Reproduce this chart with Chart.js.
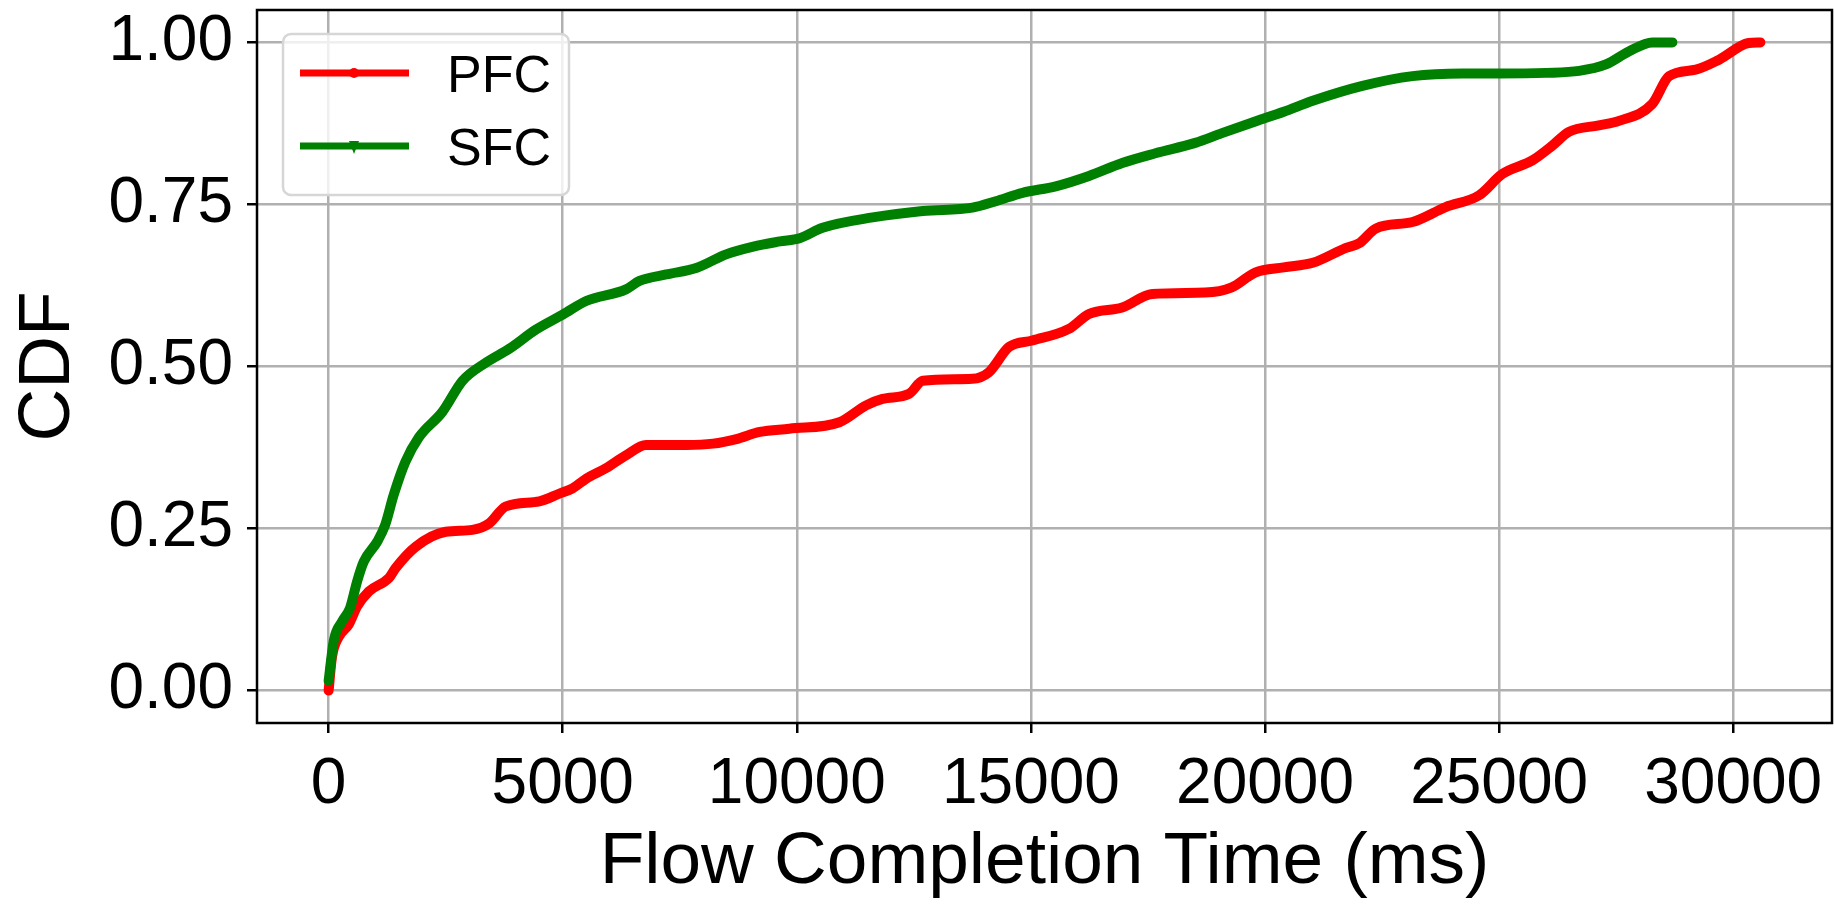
<!DOCTYPE html>
<html>
<head>
<meta charset="utf-8">
<title>Flow Completion Time CDF</title>
<script src="https://cdn.jsdelivr.net/npm/chart.js@4.4.1/dist/chart.umd.min.js"></script>
<style>
    html, body { margin: 0; padding: 0; background: #fff; }
    #wrap { width: 1834px; height: 904px; }
</style>
</head>
<body>
<div id="wrap"><canvas id="cdfChart" width="1834" height="904"></canvas></div>
<script>
// Values (time in ms, CDF 0..1)
var pfcTime = [0, 70, 210, 430, 610, 860, 1290, 1430, 1860, 2500,
               3070, 3430, 3780, 4500, 4930, 5210, 5500, 5920, 6350, 6780,
               7640, 8210, 8710, 9210, 9840, 10910, 11480, 11830, 12400, 12690,
               13750, 14100, 14530, 15030, 15810, 16240, 16950, 17590, 18720, 19290,
               19790, 20400, 21020, 21730, 22010, 22370, 23150, 23860, 24570, 25070,
               25710, 26140, 26490, 27130, 27560, 28270, 28630, 29200, 29690, 30330,
               30580];
var pfcCdf = [0.000, 0.051, 0.082, 0.102, 0.130, 0.153, 0.174, 0.189, 0.222, 0.245,
              0.248, 0.258, 0.284, 0.292, 0.304, 0.312, 0.327, 0.343, 0.363, 0.379,
              0.379, 0.381, 0.388, 0.399, 0.404, 0.414, 0.440, 0.450, 0.458, 0.478,
              0.481, 0.491, 0.530, 0.540, 0.558, 0.581, 0.591, 0.612, 0.614, 0.622,
              0.645, 0.653, 0.660, 0.683, 0.690, 0.713, 0.723, 0.746, 0.764, 0.797,
              0.818, 0.841, 0.862, 0.872, 0.879, 0.905, 0.948, 0.958, 0.973, 0.999,
              1.000];

var sfcTime = [0, 110, 290, 460, 610, 750, 1040, 1210, 1390, 1640,
               1930, 2430, 2860, 3360, 3850, 4430, 5000, 5500, 6350, 6640,
               7210, 7850, 8490, 9070, 9640, 10060, 10550, 11620, 12690, 13750,
               14250, 14820, 15530, 16240, 16950, 17660, 18510, 19080, 19790, 20400,
               21020, 22080, 23150, 24220, 25000, 26000, 26710, 27280, 27770, 28270,
               28700];
var sfcCdf = [0.015, 0.077, 0.107, 0.128, 0.169, 0.199, 0.230, 0.256, 0.302, 0.353,
              0.391, 0.430, 0.478, 0.506, 0.527, 0.557, 0.580, 0.601, 0.619, 0.632,
              0.642, 0.652, 0.673, 0.685, 0.693, 0.698, 0.714, 0.730, 0.740, 0.745,
              0.755, 0.768, 0.778, 0.794, 0.814, 0.829, 0.845, 0.860, 0.878, 0.893,
              0.910, 0.933, 0.948, 0.952, 0.952, 0.953, 0.956, 0.966, 0.986, 1.000,
              1.000];

var seriesLabels = ['PFC', 'SFC'];
var xTickValues = [0, 5000, 10000, 15000, 20000, 25000, 30000];
var yTickValues = [0, 0.25, 0.5, 0.75, 1.0];
var xLimits = [-1530, 32110];
var yLimits = [-0.05, 1.05];

var FONT = '"Liberation Sans", Arial, Helvetica, sans-serif';

function toPoints(xs, ys) {
    var pts = [];
    for (var i = 0; i < xs.length; i++) {
        pts.push({ x: xs[i], y: ys[i] });
    }
    return pts;
}

function fixedTicks(values) {
    return function(scale) {
        scale.ticks = values.map(function(v) { return { value: v }; });
    };
}

// Fixed axis box size, and no extra room for edge labels
function fixAxis(size) {
    return function(s) {
        if (s.isHorizontal()) {
            s.height = size;
        } else {
            s.width = size;
        }
        s.paddingTop = 0;
        s.paddingBottom = 0;
        s.paddingLeft = 0;
        s.paddingRight = 0;
    };
}

// Common look for both curves
function cdfLine(label, xs, ys, color, marker, order) {
    return {
        label: label,
        data: toPoints(xs, ys),
        borderColor: color,
        backgroundColor: color,
        borderWidth: 10,
        fill: false,
        pointRadius: 0,
        pointHoverRadius: 0,
        cubicInterpolationMode: 'monotone',
        borderCapStyle: 'round',
        borderJoinStyle: 'round',
        legendMarker: marker,
        order: order
    };
}

// Black box around the plot area (all four spines)
var framePlugin = {
    id: 'frame',
    afterDatasetsDraw: function(chart) {
        var a = chart.chartArea;
        var ctx = chart.ctx;
        ctx.save();
        ctx.strokeStyle = '#000';
        ctx.lineWidth = 2.5;
        ctx.strokeRect(a.left, a.top, a.right - a.left, a.bottom - a.top);
        ctx.restore();
    }
};

// Legend in the upper left corner, matplotlib style
var cornerLegend = {
    id: 'cornerLegend',
    afterDraw: function(chart) {
        var ctx = chart.ctx;
        var box = { x: 283, y: 34, w: 286, h: 161, r: 8 };
        ctx.save();
        ctx.beginPath();
        ctx.roundRect(box.x, box.y, box.w, box.h, box.r);
        ctx.fillStyle = 'rgba(255,255,255,0.8)';
        ctx.fill();
        ctx.lineWidth = 2.5;
        ctx.strokeStyle = '#d6d6d6';
        ctx.stroke();

        var rowY = [73, 146];
        chart.data.datasets.forEach(function(ds, i) {
            var y = rowY[i];
            ctx.strokeStyle = ds.borderColor;
            ctx.fillStyle = ds.borderColor;
            ctx.lineWidth = 7;
            ctx.lineCap = 'butt';
            ctx.beginPath();
            ctx.moveTo(300, y);
            ctx.lineTo(409, y);
            ctx.stroke();

            ctx.beginPath();
            if (ds.legendMarker === 'circle') {
                ctx.arc(354, y, 5, 0, Math.PI * 2);
            } else {
                ctx.moveTo(349, y - 5);
                ctx.lineTo(359, y - 5);
                ctx.lineTo(354, y + 8);
                ctx.closePath();
            }
            ctx.fill();

            ctx.fillStyle = '#000';
            ctx.font = '52px ' + FONT;
            ctx.textBaseline = 'alphabetic';
            ctx.textAlign = 'left';
            ctx.fillText(ds.label, 447, y + 19);
        });
        ctx.restore();
    }
};

var ctx = document.getElementById('cdfChart');

new Chart(ctx, {
    type: 'line',
    data: {
        datasets: [
            cdfLine(seriesLabels[0], pfcTime, pfcCdf, '#ff0000', 'circle', 1),
            cdfLine(seriesLabels[1], sfcTime, sfcCdf, '#008000', 'triangle', 0)
        ]
    },
    options: {
        responsive: false,
        animation: false,
        devicePixelRatio: 1,
        layout: { padding: { top: 10, right: 2, left: 0, bottom: 0 } },
        plugins: {
            legend: { display: false },
            tooltip: { enabled: false }
        },
        scales: {
            x: {
                type: 'linear',
                min: xLimits[0],
                max: xLimits[1],
                afterBuildTicks: fixedTicks(xTickValues),
                afterFit: fixAxis(181),
                grid: {
                    color: '#b0b0b0',
                    lineWidth: 2.5,
                    tickColor: '#000',
                    tickLength: 10,
                    tickWidth: 2.5
                },
                border: { display: false },
                ticks: {
                    color: '#000',
                    padding: 14,
                    maxRotation: 0,
                    font: { family: FONT, size: 64 },
                    callback: function(v) { return String(v); }
                },
                title: {
                    display: true,
                    text: 'Flow Completion Time (ms)',
                    color: '#000',
                    font: { family: FONT, size: 73, lineHeight: 1.1 },
                    padding: { top: 0, bottom: 1 }
                }
            },
            y: {
                type: 'linear',
                min: yLimits[0],
                max: yLimits[1],
                afterBuildTicks: fixedTicks(yTickValues),
                afterFit: fixAxis(257),
                grid: {
                    color: '#b0b0b0',
                    lineWidth: 2.5,
                    tickColor: '#000',
                    tickLength: 10,
                    tickWidth: 2.5
                },
                border: { display: false },
                ticks: {
                    color: '#000',
                    padding: 14,
                    font: { family: FONT, size: 64 },
                    callback: function(v) { return v.toFixed(2); }
                },
                title: {
                    display: true,
                    text: 'CDF',
                    color: '#000',
                    font: { family: FONT, size: 73, lineHeight: 1.1 },
                    padding: { top: 9, bottom: 0 }
                }
            }
        }
    },
    plugins: [framePlugin, cornerLegend]
});
</script>
</body>
</html>
